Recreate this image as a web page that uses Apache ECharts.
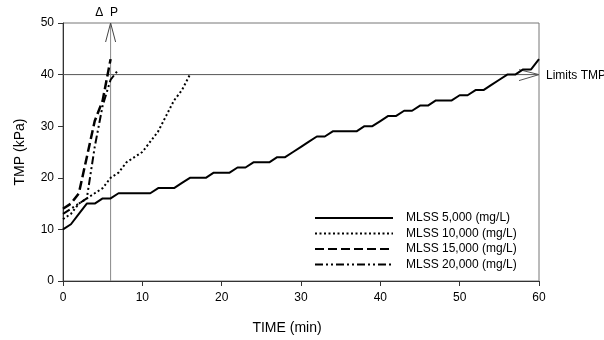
<!DOCTYPE html>
<html>
<head>
<meta charset="utf-8">
<script src="https://cdn.jsdelivr.net/npm/echarts@6/dist/echarts.min.js"></script>
<style>html,body{margin:0;padding:0;background:#fff}#c{width:604px;height:340px}</style>
</head>
<body>
<div id="c"></div>
<script>
const FONT = "'Liberation Sans', Arial, sans-serif";
const seriesNames = ['MLSS 5,000 (mg/L)', 'MLSS 10,000 (mg/L)', 'MLSS 15,000 (mg/L)', 'MLSS 20,000 (mg/L)'];
// [time (min), TMP (kPa)]
const mlss5000 = [[0,10],[1,11],[2,13],[3,15],[4,15],[5,16],[6,16],[7,17],[8,17],[9,17],[10,17],[11,17],[12,18],[13,18],[14,18],[15,19],[16,20],[17,20],[18,20],[19,21],[20,21],[21,21],[22,22],[23,22],[24,23],[25,23],[26,23],[27,24],[28,24],[29,25],[30,26],[31,27],[32,28],[33,28],[34,29],[35,29],[36,29],[37,29],[38,30],[39,30],[40,31],[41,32],[42,32],[43,33],[44,33],[45,34],[46,34],[47,35],[48,35],[49,35],[50,36],[51,36],[52,37],[53,37],[54,38],[55,39],[56,40],[57,40],[58,41],[59,41],[60,43]];
const mlss10000 = [[0,12],[1,13],[2,15],[3,16],[4,17],[5,18],[6,20],[7,21],[8,23],[9,24],[10,25],[11,27],[12,29],[13,32],[14,35],[15,37],[16,40]];
const mlss15000 = [[0,14],[1,15],[2,17],[3,24],[4,31],[5,35],[6,43]];
const mlss20000 = [[0,13],[1,14],[2,15],[3,16],[4,26],[5,34],[6,39],[7,41]];
const limitTMP = 40;
const deltaPTime = 6;
const xTicks = {min: 0, max: 60, interval: 10};
const yTicks = {min: 0, max: 50, interval: 10};

const chart = echarts.init(document.getElementById('c'), null, {renderer: 'canvas'});

function annotations(params, api) {
  const vb = api.coord([deltaPTime, yTicks.min]);
  const vt = api.coord([deltaPTime, yTicks.max]);
  const hl = api.coord([xTicks.min, limitTMP]);
  const hr = api.coord([xTicks.max, limitTMP]);
  return {
    type: 'group',
    children: [
      {type: 'line', shape: {x1: hl[0], y1: hl[1], x2: hr[0], y2: hr[1]}, style: {stroke: '#555', lineWidth: 1}},
      {type: 'polyline', shape: {points: [[hr[0]-20, hr[1]-5],[hr[0], hr[1]],[hr[0]-20, hr[1]+6]]}, style: {stroke: '#555', lineWidth: 1, fill: null}},
      {type: 'line', shape: {x1: vb[0], y1: vb[1], x2: vt[0], y2: vt[1]}, style: {stroke: '#888', lineWidth: 1}},
      {type: 'polyline', shape: {points: [[vt[0]-5, vt[1]+19],[vt[0], vt[1]],[vt[0]+5, vt[1]+19]]}, style: {stroke: '#444', lineWidth: 1, fill: null}},
      {type: 'text', x: vt[0]-4, y: vt[1]-10, style: {text: 'Δ  P', fill: '#000', font: '12px ' + FONT, align: 'center', verticalAlign: 'middle'}},
      {type: 'text', x: hr[0]+7, y: hr[1]+1, style: {text: 'Limits TMP', fill: '#000', font: '12px ' + FONT, align: 'left', verticalAlign: 'middle'}}
    ]
  };
}

const lineBase = {type: 'line', symbol: 'none', smooth: false, z: 5};
chart.setOption({
  animation: false,
  backgroundColor: '#fff',
  textStyle: {fontFamily: FONT},
  grid: {left: 63, right: 65, top: 23, bottom: 55, show: true, borderColor: '#777', borderWidth: 1},
  legend: {
    orient: 'vertical', left: 309, top: 207,
    itemWidth: 78, itemHeight: 12, itemGap: 3.5,
    itemStyle: {opacity: 0},
    textStyle: {fontSize: 12, color: '#000', fontFamily: FONT, padding: [0,0,0,8]},
    data: seriesNames
  },
  xAxis: {
    type: 'value', min: xTicks.min, max: xTicks.max, interval: xTicks.interval,
    name: 'TIME (min)', nameLocation: 'middle', nameGap: 40,
    nameTextStyle: {fontSize: 14, color: '#000', fontFamily: FONT, padding: [0, 28, 0, 0]},
    axisLine: {lineStyle: {color: '#333', width: 1}},
    axisTick: {inside: false, length: 5, lineStyle: {color: '#333'}},
    axisLabel: {fontSize: 12, color: '#000', margin: 11, fontFamily: FONT},
    splitLine: {show: false}
  },
  yAxis: {
    type: 'value', min: yTicks.min, max: yTicks.max, interval: yTicks.interval,
    name: 'TMP (kPa)', nameLocation: 'middle', nameGap: 36,
    nameTextStyle: {fontSize: 14, color: '#000', fontFamily: FONT},
    axisLine: {show: true, lineStyle: {color: '#333', width: 1}},
    axisTick: {show: true, inside: false, length: 5, lineStyle: {color: '#333'}},
    axisLabel: {fontSize: 12, color: '#000', margin: 9, fontFamily: FONT},
    splitLine: {show: false}
  },
  series: [
    {type: 'custom', renderItem: annotations, data: [[0, 0]], silent: true, z: 3, clip: false},
    Object.assign({}, lineBase, {name: seriesNames[0], data: mlss5000, color: '#000', lineStyle: {color: '#000', width: 2, type: 'solid'}}),
    Object.assign({}, lineBase, {name: seriesNames[1], data: mlss10000, color: '#000', lineStyle: {color: '#000', width: 2, type: [2, 2.5]}}),
    Object.assign({}, lineBase, {name: seriesNames[2], data: mlss15000, color: '#000', lineStyle: {color: '#000', width: 2.5, type: [9, 4]}}),
    Object.assign({}, lineBase, {name: seriesNames[3], data: mlss20000, color: '#000', lineStyle: {color: '#000', width: 2, type: [8, 3, 2, 3, 2, 3]}})
  ]
});
</script>
</body>
</html>
